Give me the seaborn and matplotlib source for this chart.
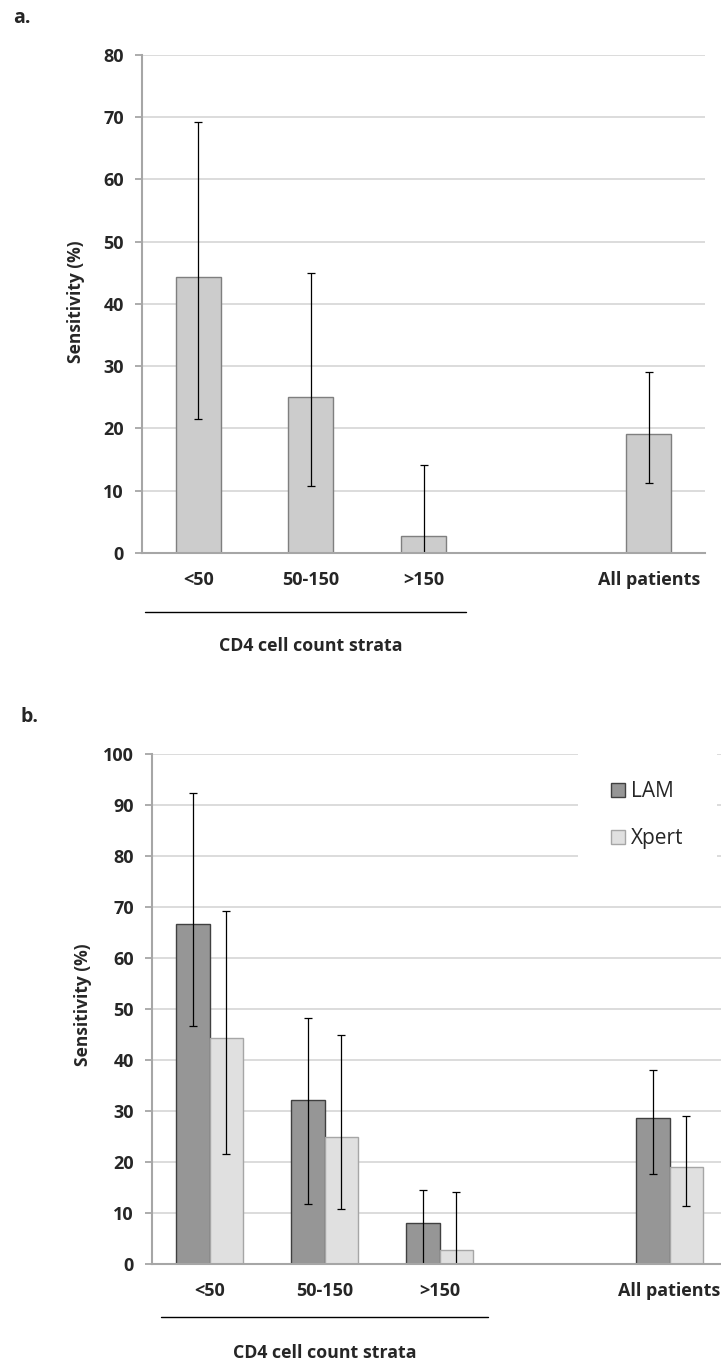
import numpy as np
import pandas as pd
import matplotlib
matplotlib.use('Agg')
import matplotlib.pyplot as plt
import matplotlib.transforms as mtransforms
from matplotlib.patches import Patch
import seaborn as sns

# data
categories = ['<50', '50-150', '>150', ' ', 'All patients']

xpert_sens = [44.4, 25.0, 2.7, np.nan, 19.1]
xpert_low = [21.5, 10.7, 0.0, np.nan, 11.3]
xpert_high = [69.2, 44.9, 14.2, np.nan, 29.1]

lam_sens = [66.7, 32.1, 8.1, np.nan, 28.6]
lam_low = [46.7, 11.8, 0.0, np.nan, 17.6]
lam_high = [92.3, 48.3, 14.5, np.nan, 38.0]

sns.set_style('white')
plt.rcParams['font.family'] = ['Open Sans', 'DejaVu Sans']

W, H = 721, 1362
fig = plt.figure(figsize=(W / 100, H / 100), dpi=100)

grid_col = '#d9d9d9'
spine_col = '#a6a6a6'


def style_axis(ax, ymax):
    ax.set_xlim(-0.5, 4.5)
    ax.set_ylim(0, ymax)
    ax.set_yticks(np.arange(0, ymax + 1, 10))
    ax.yaxis.grid(True, color=grid_col, linewidth=1.3)
    ax.xaxis.grid(False)
    ax.set_axisbelow(True)
    for s in ['top', 'right']:
        ax.spines[s].set_visible(False)
    for s in ['left', 'bottom']:
        ax.spines[s].set_color(spine_col)
        ax.spines[s].set_linewidth(1.5)
    ax.set_xticks(range(len(categories)))
    ax.set_xticklabels(categories, fontsize=13, fontweight='bold')
    ax.set_xticks(np.arange(-0.5, 5, 1), minor=True)
    ax.tick_params(axis='x', which='major', length=0, pad=13)
    ax.tick_params(axis='x', which='minor', length=5, width=1.3, color=spine_col)
    ax.tick_params(axis='y', length=5, width=1.3, color=spine_col, pad=8,
                   left=True)
    for t in ax.get_yticklabels():
        t.set_fontsize(13)
        t.set_fontweight('bold')
    ax.set_xlabel('')
    ax.set_ylabel('Sensitivity (%)', fontsize=12.5, fontweight='bold')


def add_errors(ax, lows, highs):
    bars = sorted(ax.patches, key=lambda p: p.get_x())
    for p, lo, hi in zip(bars, lows, highs):
        xc = p.get_x() + p.get_width() / 2
        v = p.get_height()
        ax.errorbar(xc, v, yerr=[[v - lo], [hi - v]], fmt='none',
                    ecolor='black', elinewidth=0.9, capsize=3, capthick=0.9,
                    zorder=1.5)


def add_bracket(ax, x0, x1, yline, ytext):
    trans = mtransforms.blended_transform_factory(ax.transData, ax.transAxes)
    ax.plot([x0, x1], [yline, yline], color='black', linewidth=1.0,
            transform=trans, clip_on=False)
    ax.text(1.0, ytext, 'CD4 cell count strata', transform=trans,
            ha='center', va='center', fontsize=12.8, fontweight='bold')


# ---------- panel a ----------
ax_a = fig.add_axes([142 / W, 1 - 553 / H, (705 - 142) / W, (553 - 55) / H])
df_a = pd.DataFrame({'cat': categories, 'sens': xpert_sens})
sns.barplot(data=df_a, x='cat', y='sens', order=categories, ax=ax_a,
            width=0.4, color='#cccccc', edgecolor='#7f7f7f', linewidth=1.0,
            saturation=1)
style_axis(ax_a, 80)
ax_a.yaxis.set_label_coords(-0.101, 0.504)
valid = [i for i, v in enumerate(xpert_sens) if not np.isnan(v)]
add_errors(ax_a, [xpert_low[i] for i in valid], [xpert_high[i] for i in valid])
add_bracket(ax_a, -0.47, 2.38, -0.118, -0.187)
fig.text(13 / W, 1 - 18 / H, 'a.', fontsize=14, fontweight='bold',
         ha='left', va='center')

# ---------- panel b ----------
ax_b = fig.add_axes([152 / W, 1 - 1264 / H, 575 / W, (1264 - 754) / H])
df_b = pd.DataFrame({
    'cat': categories * 2,
    'test': ['LAM'] * len(categories) + ['Xpert'] * len(categories),
    'sens': lam_sens + xpert_sens,
})
sns.barplot(data=df_b, x='cat', y='sens', hue='test', order=categories,
            hue_order=['LAM', 'Xpert'], ax=ax_b, width=0.58,
            palette={'LAM': '#969696', 'Xpert': '#e0e0e0'}, saturation=1,
            linewidth=1.0, legend=False)
for p in ax_b.patches:
    fc = matplotlib.colors.to_hex(p.get_facecolor())
    p.set_edgecolor('#404040' if fc == '#969696' else '#a6a6a6')
style_axis(ax_b, 100)
ax_b.yaxis.set_label_coords(-0.104, 0.508)
lows_b, highs_b = [], []
for i in valid:
    lows_b += [lam_low[i], xpert_low[i]]
    highs_b += [lam_high[i], xpert_high[i]]
add_errors(ax_b, lows_b, highs_b)
add_bracket(ax_b, -0.42, 2.42, -0.104, -0.175)
fig.text(20 / W, 1 - 717 / H, 'b.', fontsize=14, fontweight='bold',
         ha='left', va='center')

handles = [Patch(facecolor='#969696', edgecolor='#404040', label='LAM'),
           Patch(facecolor='#e0e0e0', edgecolor='#a6a6a6', label='Xpert')]
leg = ax_b.legend(handles=handles, loc='center left',
                  bbox_to_anchor=(0.722, 0.88), fontsize=15, frameon=True,
                  facecolor='white', edgecolor='none', framealpha=1,
                  fancybox=False, borderpad=1.6, handlelength=0.7,
                  handleheight=0.7, handletextpad=0.25, labelspacing=1.25)

fig.savefig('out.png', dpi=100)
